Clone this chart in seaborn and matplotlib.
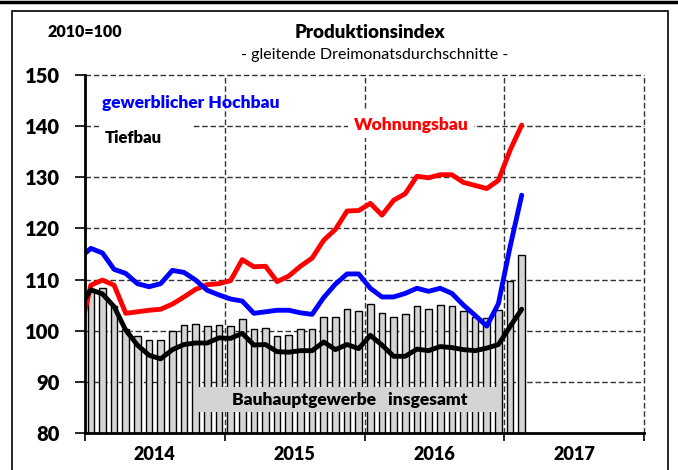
import numpy as np
import pandas as pd
import matplotlib
matplotlib.use("Agg")
import matplotlib.pyplot as plt
import seaborn as sns
from matplotlib.patches import Rectangle
from matplotlib.lines import Line2D

# monthly values, Jan 2014 .. Feb 2017 (lines also carry Dec 2013 as first entry)
years = ["2014", "2015", "2016", "2017"]

insgesamt = [108.1, 108.3, 104.8, 100.3, 98.9, 98.1, 98.1, 99.9, 101.2, 101.4, 100.9, 101.2,
             101.0, 102.3, 100.3, 100.6, 98.9, 99.2, 100.3, 100.3, 102.7, 102.7, 104.3, 103.8,
             105.2, 103.5, 102.6, 103.2, 104.9, 104.3, 105.1, 104.9, 103.8, 102.7, 102.4, 104.0,
             109.7, 114.8]

hochbau = [114.1, 116.1, 115.2, 112.0, 111.2, 109.2, 108.6, 109.2, 111.8, 111.4, 109.9, 107.9, 107.0,
           106.2, 105.8, 103.4, 103.7, 104.0, 104.0, 103.5, 103.2, 106.5, 109.1, 111.1, 111.1,
           108.3, 106.6, 106.6, 107.3, 108.3, 107.7, 108.3, 107.3, 105.0, 103.0, 100.9, 105.3,
           116.4, 126.5]

wohnungsbau = [99.1, 108.9, 109.9, 108.9, 103.4, 103.7, 104.0, 104.2, 105.2, 106.6, 108.1, 109.0, 109.2,
               109.8, 113.9, 112.5, 112.6, 109.6, 110.7, 112.6, 114.2, 117.7, 119.8, 123.4, 123.5,
               124.9, 122.6, 125.5, 126.8, 130.2, 129.9, 130.5, 130.5, 129.0, 128.4, 127.8, 129.4,
               135.3, 140.2]

tiefbau = [104.5, 108.0, 107.2, 104.7, 100.1, 97.2, 95.2, 94.5, 96.3, 97.3, 97.6, 97.6, 98.6,
           98.5, 99.5, 97.2, 97.3, 95.9, 95.8, 96.1, 96.1, 97.8, 96.3, 97.3, 96.5,
           99.1, 97.2, 95.0, 95.0, 96.4, 96.1, 96.9, 96.7, 96.3, 96.1, 96.6, 97.3,
           100.8, 104.2]

bar_pos = np.arange(len(insgesamt)) + 0.5
line_pos = np.arange(len(hochbau)) - 0.5

bars = pd.DataFrame({"pos": bar_pos, "wert": insgesamt})
lines = pd.DataFrame({"pos": line_pos, "hochbau": hochbau,
                      "wohnungsbau": wohnungsbau, "tiefbau": tiefbau})

sns.set_style("white")
plt.rcParams["font.family"] = ["Lato", "DejaVu Sans"]
plt.rcParams["text.color"] = "black"
plt.rcParams["xtick.color"] = "black"
plt.rcParams["ytick.color"] = "black"
W = "heavy"

fig = plt.figure(figsize=(6.78, 4.70), dpi=100)
ax = fig.add_axes([85 / 678, 37 / 470, 559 / 678, 358 / 470])

# dashed grid, also on the top and right edge
dash = dict(color="#333333", lw=1.0, ls=(0, (4, 2)), zorder=0.5, clip_on=False)
for v in range(90, 151, 10):
    ax.axhline(v, **dash)
for x in (12, 24, 36, 48):
    ax.axvline(x, **dash)

sns.barplot(data=bars, x="pos", y="wert", native_scale=True, width=0.57,
            color="#d4d4d4", saturation=1, edgecolor="black", linewidth=1.0,
            ax=ax, zorder=2)

sns.lineplot(data=lines, x="pos", y="wohnungsbau", color="#ff0000", lw=3.5, ax=ax, zorder=4)
sns.lineplot(data=lines, x="pos", y="hochbau", color="#0000ff", lw=3.5, ax=ax, zorder=4)
sns.lineplot(data=lines, x="pos", y="tiefbau", color="black", lw=3.5, ax=ax, zorder=5)

ax.set_xlim(0, 48)
ax.set_ylim(80, 150)
ax.set_xlabel("")
ax.set_ylabel("")

ax.set_yticks(range(80, 151, 10))
ax.set_yticklabels([str(v) for v in range(80, 151, 10)], fontsize=14.5, fontweight=W)
ax.set_xticks([0, 12, 24, 36, 48])
ax.set_xticklabels([])
ax.set_xticks([6, 18, 30, 42], minor=True)
ax.set_xticklabels(years, minor=True, fontsize=13, fontweight=W)
ax.tick_params(axis="x", which="major", direction="out", length=6, width=1.2,
               bottom=True, color="black")
ax.tick_params(axis="x", which="minor", length=0, pad=9, bottom=True)
ax.tick_params(axis="y", direction="out", length=7, width=1.2, color="black", left=True, pad=11)

for s in ("top", "right"):
    ax.spines[s].set_visible(False)
for s in ("left", "bottom"):
    ax.spines[s].set_linewidth(2)
    ax.spines[s].set_color("black")
    ax.spines[s].set_zorder(6)

# labels inside the plot
ax.add_patch(Rectangle((1.2, 139.2), 8.0, 1.6, facecolor="white", edgecolor="none", zorder=1))
ax.text(1.45, 144.5, "gewerblicher Hochbau", color="#0000ff", fontsize=12.5, fontweight=W,
        va="center", ha="left", zorder=7)
ax.text(1.7, 137.6, "Tiefbau", color="black", fontsize=12, fontweight=W, va="center",
        ha="left", zorder=7)
ax.text(23.1, 140.3, "Wohnungsbau", color="#ff0000", fontsize=12.5, fontweight=W,
        va="center", ha="left", zorder=7, bbox=dict(facecolor="white", edgecolor="none", pad=4))
ax.add_patch(Rectangle((9.7, 84.1), 26.0, 4.9, facecolor="#d4d4d4", edgecolor="none", zorder=6.5))
ax.text(22.7, 86.4, "Bauhauptgewerbe   insgesamt", color="black", fontsize=12.5,
        fontweight=W, va="center", ha="center", zorder=7)

# titles
fig.text(370 / 678, 1 - 32 / 470, "Produktionsindex", fontsize=13.5, fontweight=W,
         ha="center", va="center")
fig.text(375 / 678, 1 - 55 / 470, "- gleitende Dreimonatsdurchschnitte -", fontsize=11.5,
         ha="center", va="center")
fig.text(47 / 678, 1 - 32 / 470, "2010=100", fontsize=11.5, fontweight=W,
         ha="left", va="center")

# page frame
fig.patches.append(Rectangle((12 / 678, -0.05), 656 / 678, 1.05 - 11 / 470,
                             transform=fig.transFigure, fill=False, edgecolor="black", lw=1.2))
fig.lines.append(Line2D([0, 1], [1 - 1.5 / 470, 1 - 1.5 / 470], transform=fig.transFigure,
                        color="black", lw=2.5))

fig.savefig("out.png", dpi=100)
